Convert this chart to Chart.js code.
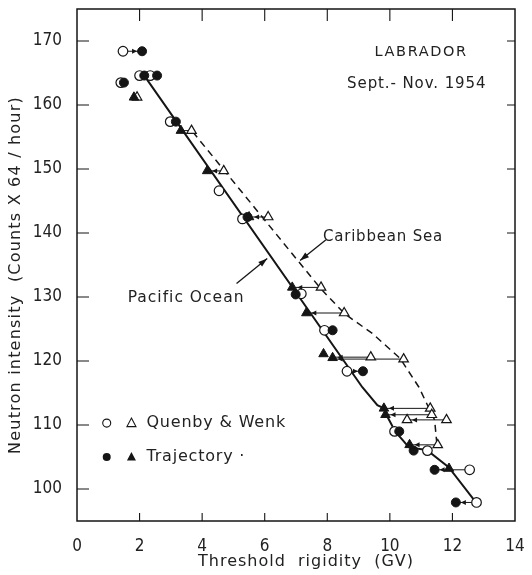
<!DOCTYPE html>
<html>
<head>
<meta charset="utf-8">
<script src="https://cdn.jsdelivr.net/npm/chart.js@4.4.1/dist/chart.umd.min.js"></script>
<style>
  html, body { margin: 0; padding: 0; background: #fff; }
</style>
</head>
<body>
<canvas id="neutronChart" width="532" height="575"></canvas>
<script>
// threshold rigidity (GV) vs neutron intensity (counts x 64 / hour), Labrador 1954
const xTicks = [0, 2, 4, 6, 8, 10, 12, 14];
const yTicks = [100, 110, 120, 130, 140, 150, 160, 170];

// Quenby & Wenk (open markers)
const qwCircleX = [1.47, 1.40, 2.00, 2.34, 2.98, 4.54, 5.29, 7.17, 7.91, 8.63, 10.15, 11.20, 12.55, 12.77];
const qwCircleY = [168.4, 163.5, 164.6, 164.6, 157.4, 146.6, 142.2, 130.5, 124.8, 118.4, 109.0, 106.0, 103.0, 97.9];
const qwTriangleX = [1.92, 3.66, 4.69, 6.11, 7.80, 8.54, 9.39, 10.44, 11.29, 11.34, 10.55, 11.81, 11.53];
const qwTriangleY = [161.2, 156.0, 149.7, 142.5, 131.5, 127.5, 120.6, 120.3, 112.6, 111.6, 110.8, 110.8, 106.9];

// Trajectory (filled markers)
const trCircleX = [2.08, 1.50, 2.15, 2.56, 3.16, 5.45, 6.99, 8.17, 9.14, 10.30, 10.76, 11.43, 12.11];
const trCircleY = [168.4, 163.5, 164.6, 164.6, 157.4, 142.5, 130.4, 124.8, 118.4, 109.0, 106.0, 103.0, 97.9];
const trTriangleX = [1.82, 3.32, 4.16, 5.50, 6.88, 7.33, 7.88, 8.17, 9.81, 9.86, 10.63, 11.89];
const trTriangleY = [161.2, 156.0, 149.7, 142.5, 131.5, 127.5, 121.1, 120.5, 112.6, 111.6, 106.9, 103.2];

// horizontal shifts from the Quenby & Wenk value to the trajectory value
const shiftFromX = [1.47, 3.66, 4.69, 6.11, 7.80, 8.54, 9.39, 10.44, 8.63, 11.29, 11.34, 11.81, 11.53, 12.55, 12.77];
const shiftToX   = [2.08, 3.32, 4.16, 5.50, 6.88, 7.33, 8.17, 8.17, 9.14, 9.81, 9.86, 10.55, 10.63, 11.43, 12.11];
const shiftY     = [168.4, 156.0, 149.7, 142.5, 131.5, 127.5, 120.6, 120.3, 118.4, 112.6, 111.6, 110.8, 106.9, 103.0, 97.9];

// drawn curves
const pacificX = [2.15, 9.12, 9.60, 9.82, 9.91, 10.17, 10.61, 11.18, 11.88, 12.77];
const pacificY = [164.6, 115.9, 113.1, 112.6, 111.4, 109.0, 106.5, 106.1, 103.4, 97.8];
const caribbeanX = [3.70, 7.79, 8.55, 9.44, 10.33, 10.93, 11.28, 11.43, 11.50, 11.56];
const caribbeanY = [155.8, 131.3, 127.4, 124.3, 120.4, 115.9, 112.3, 110.8, 107.2, 106.9];

const TICK_FONT = "'Liberation Sans Narrow', 'DejaVu Sans Condensed', 'DejaVu Sans', sans-serif";
const TEXT_FONT = "'DejaVu Sans', sans-serif";
const INK = '#151515';
const TEXT_INK = '#222';

function pts(xs, ys) {
  return xs.map((x, i) => ({ x: x, y: ys[i] }));
}

let datasets = [
  { label: 'Trajectory triangles', data: pts(trTriangleX, trTriangleY), pointStyle: 'triangle',
    pointRadius: 5.5, backgroundColor: INK, borderColor: INK, borderWidth: 1, showLine: false },
  { label: 'Trajectory circles', data: pts(trCircleX, trCircleY), pointStyle: 'circle',
    pointRadius: 4.5, backgroundColor: INK, borderColor: INK, borderWidth: 1, showLine: false },
  { label: 'QW triangles', data: pts(qwTriangleX, qwTriangleY), pointStyle: 'triangle',
    pointRadius: 5.5, backgroundColor: '#fff', borderColor: INK, borderWidth: 1.2, showLine: false },
  { label: 'QW circles', data: pts(qwCircleX, qwCircleY), pointStyle: 'circle',
    pointRadius: 4.8, backgroundColor: '#fff', borderColor: INK, borderWidth: 1.2, showLine: false }
];

shiftFromX.forEach((fx, i) => {
  datasets.push({
    label: 'shift ' + i,
    data: [{ x: fx, y: shiftY[i] }, { x: shiftToX[i], y: shiftY[i] }],
    showLine: true, borderColor: INK, borderWidth: 1, pointRadius: 0
  });
});

datasets.push({
  label: 'Pacific Ocean', data: pts(pacificX, pacificY), showLine: true,
  borderColor: INK, borderWidth: 2, pointRadius: 0, tension: 0
});
datasets.push({
  label: 'Caribbean Sea', data: pts(caribbeanX, caribbeanY), showLine: true,
  borderColor: INK, borderWidth: 1.5, borderDash: [7, 5], pointRadius: 0, tension: 0
});

// labels and pointers, placed in data units
const notes = [
  { text: 'LABRADOR', x: 11.0, y: 168.2, align: 'center', size: 14.5, spacing: 1.6 },
  { text: 'Sept.- Nov. 1954', x: 10.86, y: 163.2, align: 'center', size: 15, spacing: 0.9 },
  { text: 'Caribbean Sea', x: 7.86, y: 139.4, align: 'left', size: 15, spacing: 0.8 },
  { text: 'Pacific Ocean', x: 1.62, y: 129.8, align: 'left', size: 15.5, spacing: 1 },
  { text: 'Quenby & Wenk', x: 2.22, y: 110.3, align: 'left', size: 16, spacing: 0.8 },
  { text: 'Trajectory \u00b7', x: 2.22, y: 105.0, align: 'left', size: 16, spacing: 0.8 }
];
const pointers = [
  { fromX: 7.95, fromY: 138.9, toX: 7.13, toY: 135.7 },
  { fromX: 5.10, fromY: 132.1, toX: 6.08, toY: 136.0 }
];
const legendMarks = [
  { x: 0.95, y: 110.3, style: 'circle', filled: false },
  { x: 1.74, y: 110.3, style: 'triangle', filled: false },
  { x: 0.95, y: 105.0, style: 'circle', filled: true },
  { x: 1.74, y: 105.0, style: 'triangle', filled: true }
];

function arrowHead(ctx, x1, y1, x2, y2, len, wid) {
  const a = Math.atan2(y2 - y1, x2 - x1);
  ctx.beginPath();
  ctx.moveTo(x2, y2);
  ctx.lineTo(x2 - len * Math.cos(a) + wid * Math.sin(a), y2 - len * Math.sin(a) - wid * Math.cos(a));
  ctx.lineTo(x2 - len * Math.cos(a) - wid * Math.sin(a), y2 - len * Math.sin(a) + wid * Math.cos(a));
  ctx.closePath();
  ctx.fill();
}

const decorations = {
  id: 'decorations',
  beforeDatasetsDraw(chart) {
    const { ctx, chartArea: a, scales: { x, y } } = chart;
    ctx.save();
    ctx.strokeStyle = INK;
    ctx.lineWidth = 1.5;
    ctx.strokeRect(a.left, a.top, a.right - a.left, a.bottom - a.top);
    ctx.lineWidth = 1.1;
    ctx.beginPath();
    xTicks.forEach(v => {
      if (v <= 0 || v >= 14) return;
      const px = x.getPixelForValue(v);
      ctx.moveTo(px, a.bottom); ctx.lineTo(px, a.bottom - 8);
      ctx.moveTo(px, a.top); ctx.lineTo(px, a.top + 12);
    });
    yTicks.forEach(v => {
      const py = y.getPixelForValue(v);
      ctx.moveTo(a.left, py); ctx.lineTo(a.left + 12, py);
      ctx.moveTo(a.right, py); ctx.lineTo(a.right - 8, py);
    });
    ctx.stroke();

    // axis titles
    ctx.fillStyle = TEXT_INK;
    ctx.letterSpacing = '1px';
    ctx.font = '16px ' + TEXT_FONT;
    ctx.textAlign = 'center';
    ctx.textBaseline = 'middle';
    ctx.fillText('Threshold  rigidity  (GV)', (a.left + a.right) / 2 + 10, 562);
    ctx.save();
    ctx.translate(16, (a.top + a.bottom) / 2 + 10);
    ctx.rotate(-Math.PI / 2);
    ctx.letterSpacing = '1.2px';
    ctx.fillText('Neutron intensity  (Counts X 64 / hour)', 0, 0);
    ctx.restore();
    ctx.restore();
  },
  afterDatasetsDraw(chart) {
    const { ctx, scales: { x, y } } = chart;
    ctx.save();
    ctx.fillStyle = INK;
    ctx.strokeStyle = INK;
    // arrowheads on the shifts, pointing at the trajectory marker
    shiftFromX.forEach((fx, i) => {
      const x1 = x.getPixelForValue(fx), x2 = x.getPixelForValue(shiftToX[i]);
      const py = y.getPixelForValue(shiftY[i]);
      const tip = x2 - Math.sign(x2 - x1) * 5;
      if (Math.abs(x2 - x1) > 14) arrowHead(ctx, x1, py, tip, py, 5, 2.5);
    });
    // pointers to the curves
    ctx.lineWidth = 1.3;
    pointers.forEach(p => {
      const x1 = x.getPixelForValue(p.fromX), y1 = y.getPixelForValue(p.fromY);
      const x2 = x.getPixelForValue(p.toX), y2 = y.getPixelForValue(p.toY);
      ctx.beginPath(); ctx.moveTo(x1, y1); ctx.lineTo(x2, y2); ctx.stroke();
      arrowHead(ctx, x1, y1, x2, y2, 9, 3);
    });
    // legend marks
    ctx.lineWidth = 1.1;
    legendMarks.forEach(m => {
      const px = x.getPixelForValue(m.x), py = y.getPixelForValue(m.y);
      ctx.beginPath();
      if (m.style === 'circle') {
        ctx.arc(px, py, 4, 0, Math.PI * 2);
      } else {
        ctx.moveTo(px, py - 5); ctx.lineTo(px + 4.5, py + 3.5); ctx.lineTo(px - 4.5, py + 3.5); ctx.closePath();
      }
      if (m.filled) ctx.fill(); else ctx.stroke();
    });
    // text
    ctx.fillStyle = TEXT_INK;
    ctx.textBaseline = 'middle';
    notes.forEach(n => {
      ctx.font = n.size + 'px ' + TEXT_FONT;
      ctx.letterSpacing = n.spacing + 'px';
      ctx.textAlign = n.align;
      ctx.fillText(n.text, x.getPixelForValue(n.x), y.getPixelForValue(n.y));
    });
    ctx.restore();
  }
};

new Chart(document.getElementById('neutronChart'), {
  type: 'scatter',
  data: { datasets: datasets },
  plugins: [decorations],
  options: {
    responsive: false,
    animation: false,
    layout: { padding: { top: 9, right: 17, left: 0, bottom: 0 } },
    plugins: { legend: { display: false }, tooltip: { enabled: false } },
    scales: {
      x: {
        type: 'linear', min: 0, max: 14,
        afterBuildTicks: axis => { axis.ticks = xTicks.map(v => ({ value: v })); },
        afterFit: axis => { axis.height = 54; axis.paddingLeft = 0; axis.paddingRight = 0; },
        grid: { display: false }, border: { display: false },
        ticks: { color: TEXT_INK, padding: 7, font: { family: TICK_FONT, size: 17 } }
      },
      y: {
        type: 'linear', min: 95, max: 175,
        afterBuildTicks: axis => { axis.ticks = yTicks.map(v => ({ value: v })); },
        afterFit: axis => { axis.width = 77; axis.paddingTop = 0; axis.paddingBottom = 0; },
        grid: { display: false }, border: { display: false },
        ticks: { color: TEXT_INK, padding: 7, font: { family: TICK_FONT, size: 17 } }
      }
    }
  }
});
</script>
</body>
</html>
